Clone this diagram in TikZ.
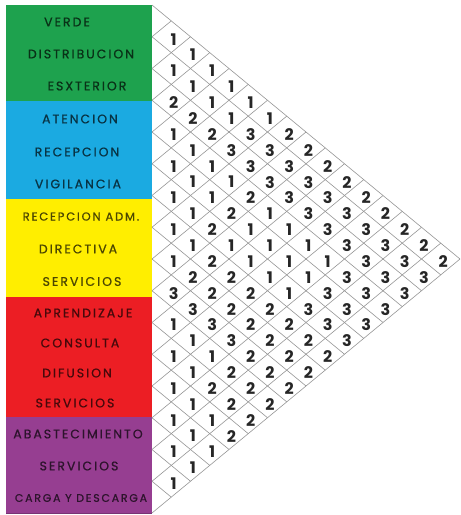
\documentclass[tikz,border=0pt]{standalone}
\usepackage{fontspec}
\newfontfamily\labfont[LetterSpace=16,FakeBold=0.8]{Poppins}
\newfontfamily\numfont{Poppins}
\definecolor{cgreen}{RGB}{30,162,78}
\definecolor{cblue}{RGB}{27,170,225}
\definecolor{cyellow}{RGB}{255,238,0}
\definecolor{cred}{RGB}{236,30,36}
\definecolor{cpurple}{RGB}{150,62,145}
\definecolor{gridgray}{RGB}{150,150,150}
\tikzset{
  gridline/.style={draw=gridgray, line width=0.6pt},
  lab/.style={font=\labfont\fontsize{12.5}{13}\selectfont, inner sep=0pt, anchor=center},
  num/.style={font=\numfont\bfseries\fontsize{16}{17}\selectfont, inner sep=0pt, text=black!85, anchor=center},
  sepline/.style={line width=0.5pt}
}
\begin{document}
\begin{tikzpicture}[x=1pt,y=-1pt]
\useasboundingbox (0,0) rectangle (461,515);
\fill[white] (0,0) rectangle (461,515);
% left colour boxes
\foreach \t/\b/\col/\txt/\xc [count=\k] in {
  5/37/cgreen/VERDE/67,
  37/69/cgreen/DISTRIBUCION/81,
  69/101/cgreen/ESXTERIOR/87,
  101/135/cblue/ATENCION/80,
  135/167/cblue/RECEPCION/77,
  167/199/cblue/VIGILANCIA/78,
  199/232/cyellow/{\fontsize{11.5}{12}\selectfont RECEPCION ADM.}/81,
  232/264/cyellow/DIRECTIVA/78,
  264/297/cyellow/SERVICIOS/82,
  297/327/cred/APRENDIZAJE/83,
  327/357/cred/CONSULTA/80,
  357/387/cred/DIFUSION/77,
  387/417/cred/SERVICIOS/75,
  417/449/cpurple/ABASTECIMIENTO/78,
  449/481/cpurple/SERVICIOS/79,
  481/513/cpurple/{\fontsize{11}{12}\selectfont CARGA Y DESCARGA}/81} {
  \fill[\col] (6,\t) rectangle (152,\b);
  \draw[sepline, \col!80!black] (6,\b) -- (152,\b);
  \node[lab, text=\col!30!black] (lab\k) at ({\xc},{(\t+\b)/2+1}) {\txt};
}
% triangular grid
\def\h{31.75}
\def\dx{19.25}
\foreach \k in {0,...,16} {
  \pgfmathsetmacro\yk{5+\k*\h}
  \draw[gridline] (152,\yk) -- ++({(16-\k)*\dx},{(16-\k)*\h/2});
  \draw[gridline] (152,\yk) -- ++({\k*\dx},{-\k*\h/2});
}
% numbers, level L = i+j
\foreach \L/\vals in {
  1/{1}, 2/{1}, 3/{1,1}, 4/{1,1}, 5/{2,1,1}, 6/{2,1,1},
  7/{1,2,3,2}, 8/{1,3,3,2}, 9/{1,1,3,3,2}, 10/{1,1,3,3,2},
  11/{1,1,2,3,3,2}, 12/{1,2,1,3,3,2}, 13/{1,2,1,1,3,3,2},
  14/{1,1,1,1,3,3,2}, 15/{1,2,1,1,1,3,3,2}, 16/{2,2,1,1,3,3,3},
  17/{3,2,2,1,3,3,3}, 18/{3,2,2,3,3,3}, 19/{1,3,2,2,3,3},
  20/{1,3,2,2,3}, 21/{1,1,2,2,2}, 22/{1,2,2,2}, 23/{1,2,2,2},
  24/{1,2,2}, 25/{1,1,2}, 26/{1,2}, 27/{1,1}, 28/{1}, 29/{1}} {
  \foreach \v [count=\c] in \vals {
    \pgfmathsetmacro\d{2*\c-mod(\L,2)}
    \node[num] (n\L-\c) at ({152+\d*\dx+2.5},{5+\h*(\L+1)/2+2.5}) {\v};
  }
}
\end{tikzpicture}
\end{document}
